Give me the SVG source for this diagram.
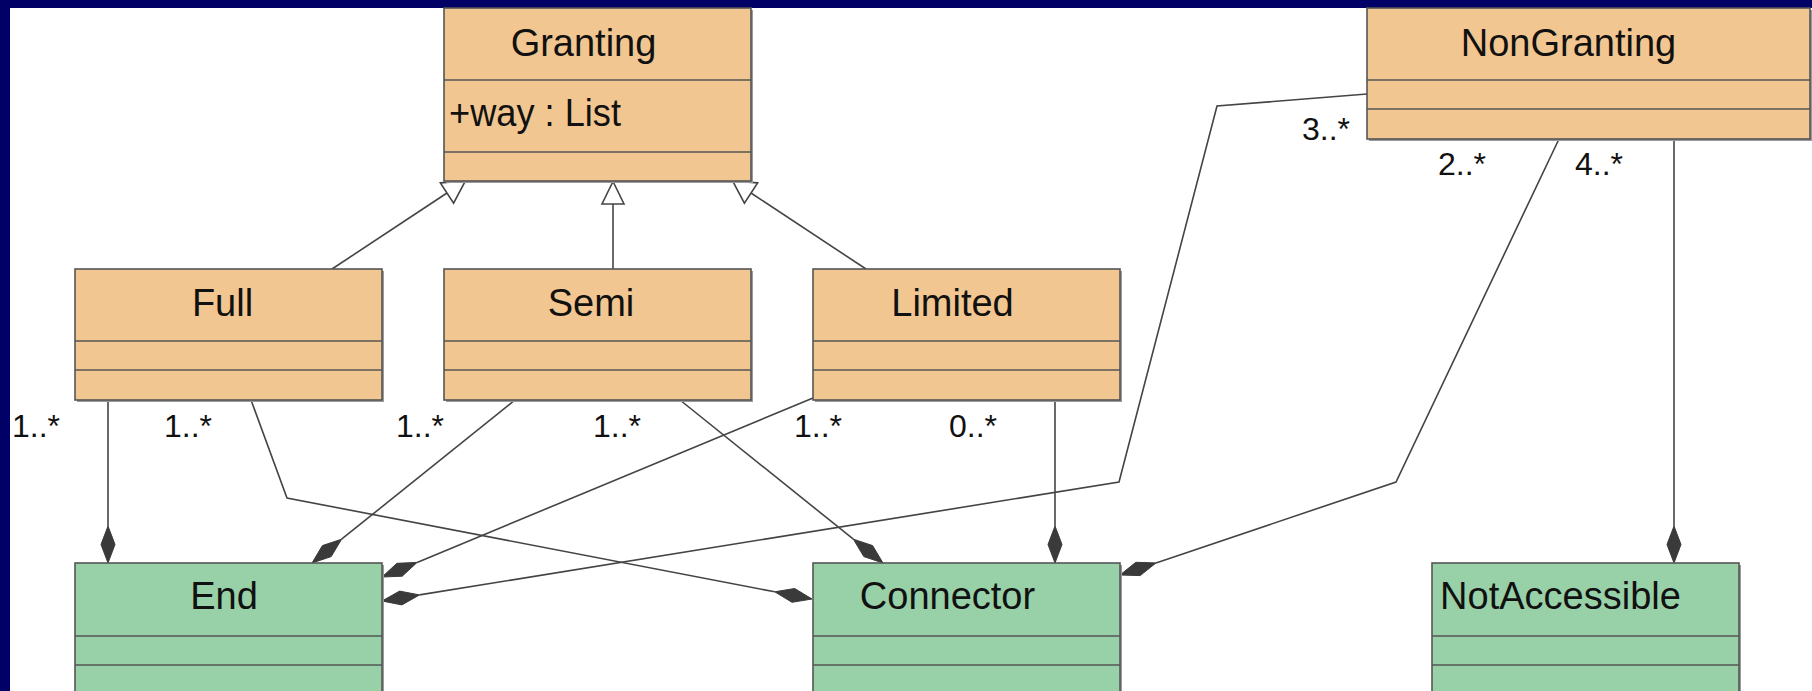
<svg xmlns="http://www.w3.org/2000/svg" width="1812" height="691" viewBox="0 0 1812 691">
<style>
.orange{fill:#F2C690;stroke:#555;stroke-width:1.6}
.green{fill:#98D0A8;stroke:#555;stroke-width:1.6}
.shadow{fill:#9a9a9a}
.div{stroke:#555;stroke-width:1.6;fill:none}
.title{font-family:"Liberation Sans",Arial,sans-serif;font-size:38px;fill:#111;text-anchor:middle}
.attr{font-family:"Liberation Sans",Arial,sans-serif;font-size:38px;fill:#111}
.mult{font-family:"Liberation Sans",Arial,sans-serif;font-size:32px;fill:#111}
.line{stroke:#444;stroke-width:1.6;fill:none}
.dia{fill:#3a3a3a;stroke:#3a3a3a;stroke-width:1}
.tri{fill:#fff;stroke:#444;stroke-width:1.6}
</style>
<rect x="0" y="0" width="1812" height="691" fill="#000066"/>
<rect x="10" y="8" width="1802" height="683" fill="#fff"/>

<g id="connectors">
  <!-- generalizations -->
  <line class="line" x1="332" y1="269" x2="447" y2="193"/>
  <polygon class="tri" points="440.4,182.9 465.4,181 453.6,203.1"/>
  <line class="line" x1="613" y1="269" x2="613" y2="204"/>
  <polygon class="tri" points="613,181.5 624,204 602,204"/>
  <line class="line" x1="866" y1="269" x2="751" y2="193"/>
  <polygon class="tri" points="757.6,182.9 732.6,181 744.4,203.1"/>

  <!-- Full -> End -->
  <line class="line" x1="108" y1="400" x2="108" y2="526"/>
  <polygon class="dia" points="108,563 115,544.5 108,526 101,544.5"/>
  <!-- Semi -> End -->
  <line class="line" x1="515" y1="400" x2="341.6" y2="539.2"/>
  <polygon class="dia" points="312,563 331.2,556.6 341.6,539.2 322.4,545.6"/>
  <!-- Limited -> End -->
  <line class="line" x1="813" y1="398" x2="417.1" y2="562.4"/>
  <polygon class="dia" points="382,577 402.2,576.2 417.1,562.4 396.9,563.3"/>
  <!-- NonGranting -> End -->
  <polyline class="line" points="1367,94 1217,106 1119,482 419.5,594.9"/>
  <polygon class="dia" points="382,601 401.9,604.9 419.5,594.9 399.6,591.1"/>
  <!-- Full -> Connector -->
  <polyline class="line" points="251,400 287,498 774.7,591.8"/>
  <polygon class="dia" points="812,599 794.7,588.5 774.7,591.8 792,602.3"/>
  <!-- Semi -> Connector -->
  <line class="line" x1="680" y1="400" x2="853.4" y2="539.2"/>
  <polygon class="dia" points="883,563 872.6,545.6 853.4,539.2 863.8,556.6"/>
  <!-- Limited -> Connector -->
  <line class="line" x1="1055" y1="400" x2="1055" y2="526"/>
  <polygon class="dia" points="1055,563 1062,544.5 1055,526 1048,544.5"/>
  <!-- NonGranting -> Connector -->
  <polyline class="line" points="1559,139 1396,482 1156,562.9"/>
  <polygon class="dia" points="1120,575 1140.2,575.6 1156,562.9 1135.8,562.3"/>
  <!-- NonGranting -> NotAccessible -->
  <line class="line" x1="1674" y1="139" x2="1674" y2="526"/>
  <polygon class="dia" points="1674,563 1681,544.5 1674,526 1667,544.5"/>

  <!-- multiplicities -->
  <text class="mult" x="12" y="437">1..*</text>
  <text class="mult" x="164" y="437">1..*</text>
  <text class="mult" x="396" y="437">1..*</text>
  <text class="mult" x="593" y="437">1..*</text>
  <text class="mult" x="794" y="437">1..*</text>
  <text class="mult" x="949" y="437">0..*</text>
  <text class="mult" x="1302" y="140">3..*</text>
  <text class="mult" x="1438" y="175">2..*</text>
  <text class="mult" x="1575" y="175">4..*</text>
</g>

<g id="Granting">
  <rect class="shadow" x="446" y="10" width="307" height="173"/>
  <rect class="orange" x="444" y="8" width="307" height="173"/>
  <line class="div" x1="444" y1="80" x2="751" y2="80"/>
  <line class="div" x1="444" y1="152" x2="751" y2="152"/>
  <text class="title" x="583.5" y="56">Granting</text>
  <text class="attr" x="449" y="126" textLength="172" lengthAdjust="spacingAndGlyphs">+way : List</text>
</g>
<g id="NonGranting">
  <rect class="shadow" x="1369" y="10" width="443" height="131"/>
  <rect class="orange" x="1367" y="8" width="443" height="131"/>
  <line class="div" x1="1367" y1="80" x2="1810" y2="80"/>
  <line class="div" x1="1367" y1="109" x2="1810" y2="109"/>
  <text class="title" x="1568.5" y="56">NonGranting</text>
</g>
<g id="Full">
  <rect class="shadow" x="77" y="271" width="307" height="131"/>
  <rect class="orange" x="75" y="269" width="307" height="131"/>
  <line class="div" x1="75" y1="341" x2="382" y2="341"/>
  <line class="div" x1="75" y1="370" x2="382" y2="370"/>
  <text class="title" x="222.5" y="316">Full</text>
</g>
<g id="Semi">
  <rect class="shadow" x="446" y="271" width="307" height="131"/>
  <rect class="orange" x="444" y="269" width="307" height="131"/>
  <line class="div" x1="444" y1="341" x2="751" y2="341"/>
  <line class="div" x1="444" y1="370" x2="751" y2="370"/>
  <text class="title" x="591" y="316">Semi</text>
</g>
<g id="Limited">
  <rect class="shadow" x="815" y="271" width="307" height="131"/>
  <rect class="orange" x="813" y="269" width="307" height="131"/>
  <line class="div" x1="813" y1="341" x2="1120" y2="341"/>
  <line class="div" x1="813" y1="370" x2="1120" y2="370"/>
  <text class="title" x="952.5" y="316">Limited</text>
</g>
<g id="End">
  <rect class="shadow" x="77" y="565" width="307" height="180"/>
  <rect class="green" x="75" y="563" width="307" height="180"/>
  <line class="div" x1="75" y1="636" x2="382" y2="636"/>
  <line class="div" x1="75" y1="665" x2="382" y2="665"/>
  <text class="title" x="224" y="609">End</text>
</g>
<g id="Connector">
  <rect class="shadow" x="815" y="565" width="307" height="180"/>
  <rect class="green" x="813" y="563" width="307" height="180"/>
  <line class="div" x1="813" y1="636" x2="1120" y2="636"/>
  <line class="div" x1="813" y1="665" x2="1120" y2="665"/>
  <text class="title" x="947.5" y="609">Connector</text>
</g>
<g id="NotAccessible">
  <rect class="shadow" x="1434" y="565" width="307" height="180"/>
  <rect class="green" x="1432" y="563" width="307" height="180"/>
  <line class="div" x1="1432" y1="636" x2="1739" y2="636"/>
  <line class="div" x1="1432" y1="665" x2="1739" y2="665"/>
  <text class="title" x="1560.5" y="609">NotAccessible</text>
</g>
</svg>
